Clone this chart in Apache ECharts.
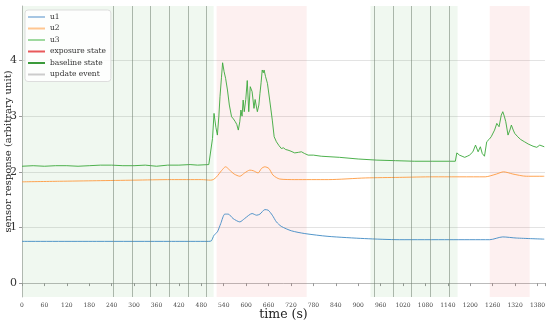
<!DOCTYPE html>
<html><head><meta charset="utf-8">
<script src="https://cdn.jsdelivr.net/npm/echarts@6/dist/echarts.min.js"></script>
<style>html,body{margin:0;padding:0;background:#fff}#c{width:550px;height:324px}</style>
</head><body><div id="c"></div>
<script>
const xTicks = [0,60,120,180,240,300,360,420,480,540,600,660,720,780,840,900,960,1020,1080,1140,1200,1260,1320,1380];
const yTicks = [0,1,2,3,4];

const u1T = [0,200,400,500,507,514,523,532,543,552,565,583,596,616,628,637,650,659,670,681,694,721,757,819,917,1011,1145,1252,1287,1323,1398];
const u1V = [0.75,0.75,0.75,0.75,0.76,0.86,0.92,1.07,1.24,1.24,1.16,1.10,1.16,1.25,1.22,1.24,1.32,1.31,1.22,1.10,1.02,0.94,0.89,0.84,0.80,0.78,0.78,0.78,0.83,0.81,0.79];

const u2T = [0,100,200,300,400,480,505,512,521,534,545,556,568,583,596,610,619,632,641,650,661,672,690,730,820,920,1010,1100,1240,1270,1289,1314,1350,1398];
const u2V = [1.82,1.83,1.84,1.85,1.86,1.86,1.85,1.86,1.91,2.02,2.09,2.03,1.96,1.92,1.98,2.03,2.02,1.98,2.06,2.09,2.06,1.94,1.87,1.86,1.86,1.89,1.90,1.91,1.91,1.96,2.00,1.96,1.92,1.92];

const u3T = [0,30,60,90,120,150,180,210,240,270,300,330,360,390,420,450,470,500,505,510,514,519,523,527,530,534,537,541,545,550,555,561,566,571,575,579,583,586,589,592,595,599,603,607,611,616,621,624,627,630,634,637,640,643,646,648,652,657,663,670,675,681,688,694,700,706,712,720,730,740,748,756,766,780,801,850,900,950,1000,1050,1100,1145,1160,1164,1171,1178,1185,1192,1198,1203,1207,1214,1221,1227,1232,1238,1244,1250,1256,1265,1271,1277,1283,1287,1291,1295,1301,1306,1310,1315,1319,1327,1335,1345,1355,1368,1378,1382,1386,1390,1398];
const u3V = [2.10,2.11,2.10,2.11,2.11,2.10,2.11,2.12,2.12,2.11,2.11,2.12,2.10,2.12,2.12,2.13,2.12,2.13,2.15,2.6,3.05,2.8,2.66,3.0,3.35,3.7,3.96,3.8,3.68,3.47,3.2,2.99,2.95,2.90,2.85,2.75,2.9,3.11,3.0,3.29,3.08,3.3,3.64,3.08,3.53,3.44,3.14,3.3,3.29,3.08,3.2,3.41,3.6,3.83,3.78,3.83,3.71,3.59,3.29,2.93,2.63,2.54,2.47,2.42,2.43,2.40,2.39,2.37,2.34,2.35,2.36,2.33,2.30,2.30,2.28,2.26,2.23,2.21,2.20,2.19,2.19,2.19,2.19,2.34,2.30,2.28,2.26,2.28,2.30,2.33,2.36,2.48,2.36,2.45,2.33,2.28,2.54,2.58,2.63,2.75,2.87,2.81,3.02,3.08,3.0,2.90,2.66,2.75,2.84,2.75,2.69,2.63,2.58,2.54,2.50,2.46,2.44,2.43,2.48,2.45,2.45];

const exposureRanges = [[521,762],[1252,1359]];
const baselineRanges = [[0,513],[933,1166]];
const updateEvents = [244,295,344,395,445,494,942,994,1043,1093,1143];

const pairs = (t,v) => t.map((x,i)=>[x,v[i]]);
const serif = 'DejaVu Serif';

const chart = echarts.init(document.getElementById('c'), null, {renderer:'canvas'});
chart.setOption({
  animation:false,
  grid:{left:22,right:5,top:6,bottom:27,show:false,containLabel:false,outerBoundsMode:'none'},
  legend:{
    orient:'vertical',left:25,top:10,
    backgroundColor:'rgba(255,255,255,0.85)',borderColor:'#dddddd',borderWidth:1,borderRadius:3,
    padding:[3,5,3,3],itemGap:3.5,itemWidth:17,itemHeight:2,icon:'rect',
    textStyle:{fontFamily:serif,fontSize:7.5,color:'#333'},
    data:[
      {name:'u1',itemStyle:{color:'#a6c6e3'}},
      {name:'u2',itemStyle:{color:'#ffc690'}},
      {name:'u3',itemStyle:{color:'#9fd99f'}},
      {name:'exposure state',itemStyle:{color:'#e8595a'}},
      {name:'baseline state',itemStyle:{color:'#3a9a3a'}},
      {name:'update event',itemStyle:{color:'#cccccc'}}
    ]
  },
  xAxis:{
    type:'value',min:0,max:1400,interval:60,
    name:'time (s)',nameLocation:'middle',nameGap:11,nameMoveOverlap:false,
    nameTextStyle:{fontFamily:serif,fontSize:12.5,color:'#222'},
    axisLine:{show:true,lineStyle:{color:'#bbbbbb',width:1}},
    axisTick:{show:true,length:3,lineStyle:{color:'#999'}},
    axisLabel:{fontFamily:serif,fontSize:6,color:'#444',margin:5,
      formatter:v=>xTicks.indexOf(v)>=0?String(v):''},
    splitLine:{show:false}
  },
  yAxis:{
    type:'value',min:-0.25,max:4.98,
    name:'sensor response (arbitrary unit)',nameLocation:'middle',nameGap:9,nameMoveOverlap:false,
    nameTextStyle:{fontFamily:serif,fontSize:10,color:'#222'},
    axisLine:{show:true,lineStyle:{color:'#bbbbbb',width:1}},
    axisTick:{show:true,length:3,customValues:yTicks,lineStyle:{color:'#999'}},
    axisLabel:{fontFamily:serif,fontSize:11,color:'#333',margin:5,customValues:yTicks},
    splitLine:{show:true,lineStyle:{color:'#e3e3e3',width:1.2}}
  },
  series:[
    {name:'baseline state',type:'line',data:[],z:1,color:'#3a9a3a',
      markArea:{silent:true,itemStyle:{color:'rgba(44,160,44,0.07)'},
        data:baselineRanges.map(r=>[{xAxis:r[0]},{xAxis:r[1]}])}},
    {name:'exposure state',type:'line',data:[],z:1,color:'#e8595a',
      markArea:{silent:true,itemStyle:{color:'rgba(230,60,60,0.08)'},
        data:exposureRanges.map(r=>[{xAxis:r[0]},{xAxis:r[1]}])}},
    {name:'update event',type:'line',data:[],z:1,color:'#cccccc',
      markLine:{silent:true,symbol:'none',label:{show:false},
        lineStyle:{color:'rgba(110,125,110,0.6)',width:0.9,type:'solid'},
        data:updateEvents.map(x=>({xAxis:x}))}},
    {name:'u1',type:'line',data:pairs(u1T,u1V),showSymbol:false,smooth:0.25,color:'#1f77b4',
      lineStyle:{width:0.9,color:'#3f8ac4'}},
    {name:'u2',type:'line',data:pairs(u2T,u2V),showSymbol:false,smooth:0.25,color:'#ff7f0e',
      lineStyle:{width:0.9,color:'#ff9a40'}},
    {name:'u3',type:'line',data:pairs(u3T,u3V),showSymbol:false,color:'#2ca02c',
      lineStyle:{width:0.9,color:'#3aa83a'}}
  ]
});
</script></body></html>
